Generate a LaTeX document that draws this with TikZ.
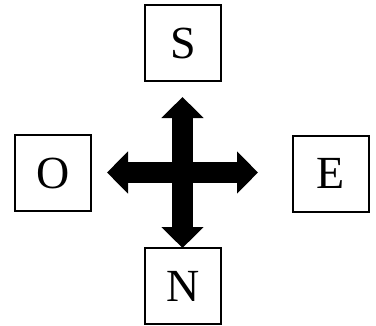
\documentclass[tikz,border=0pt]{standalone}
\usepackage{fontspec}
\setmainfont{Liberation Serif}
\usetikzlibrary{arrows.meta}
\tikzset{
  dirbox/.style={draw, line width=2pt, minimum width=76pt, minimum height=76pt, inner sep=0pt,
    font=\fontsize{46}{50}\selectfont},
  bigarrow/.style={line width=21pt,
    {Triangle[length=21pt 0 0, width=41pt 0 0]}-{Triangle[length=21pt 0 0, width=41pt 0 0]}}
}
\begin{document}
\begin{tikzpicture}[x=1pt,y=-1pt]
\useasboundingbox (0,0) rectangle (376,325);
\node[dirbox] (S) at (183,43) {S};
\node[dirbox] (O) at (53,173) {O};
\node[dirbox] (E) at (330.5,173.5) {E};
\node[dirbox] (N) at (183,286) {N};
\coordinate (top) at (182.5,97);
\coordinate (bot) at (182.5,248);
\coordinate (lft) at (107,172.5);
\coordinate (rgt) at (258,172.5);
\draw[bigarrow] (top) -- (bot);
\draw[bigarrow] (lft) -- (rgt);
\end{tikzpicture}
\end{document}
